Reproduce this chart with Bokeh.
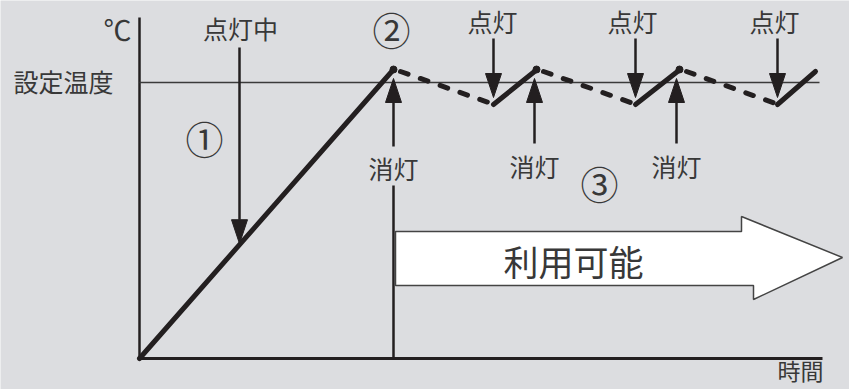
from bokeh.plotting import figure
from bokeh.models import Range1d
from bokeh.core.properties import value
from bokeh.embed import file_html
from bokeh.resources import INLINE

# ---- data (time units, temperature units) ----
ramp_time = [0, 254]
ramp_temp = [0, 289]
peak_times = [254, 397, 540]
trough_times = [354, 496, 638]
end_time = 678
peak_temp = 289
trough_temp = 254
set_temp = 276
axis_time_max = 683
axis_temp_max = 341
on_label_time = 100          # 点灯中 arrow position
labels_on = ["点灯", "点灯", "点灯"]
labels_off = ["消灯", "消灯", "消灯"]

FONT = value("Noto Sans CJK JP")
INK = "#231f20"
TXT = "#383838"
BG = "#dcdde0"

p = figure(width=849, height=389, output_backend="svg", toolbar_location=None,
           x_range=Range1d(-139, 710), y_range=Range1d(-31, 358),
           x_axis_type=None, y_axis_type=None, min_border=0)
p.grid.visible = False
p.outline_line_color = None
p.background_fill_color = BG
p.border_fill_color = BG

# axes
p.line([0, 0], [0, axis_temp_max], line_color=INK, line_width=2.5)
p.line([0, axis_time_max], [0, 0], line_color=INK, line_width=3)
# set temperature line
p.line([0, 680], [set_temp, set_temp], line_color="#3a3a3a", line_width=1.5)

# solid heating segments
p.line(ramp_time, ramp_temp, line_color=INK, line_width=5, line_cap="round")
for i, t in enumerate(trough_times):
    t_end = peak_times[i + 1] if i + 1 < len(peak_times) else end_time
    p.line([t, t_end - 2], [trough_temp, peak_temp - 2], line_color=INK, line_width=5, line_cap="round")
# dashed cooling segments
for pk, tr in zip(peak_times, trough_times):
    p.line([pk + 7, tr - 2], [peak_temp - 2, trough_temp + 1], line_color=INK, line_width=5,
           line_dash="8 13", line_cap="round")
p.scatter(peak_times, [peak_temp] * len(peak_times), size=7, color=INK)


def arrow(x, y0, y1, head_w=16, head_l=24, lw=2.5):
    """vertical arrow from y0 to tip y1"""
    d = 1 if y1 > y0 else -1
    base = y1 - d * head_l
    p.line([x, x], [y0, base], line_color=INK, line_width=lw)
    p.patch([x - head_w / 2, x + head_w / 2, x], [base, base, y1], fill_color=INK, line_color=INK)


# 点灯中 arrow down to ramp
tip = ramp_temp[1] * on_label_time / ramp_time[1] + 1
arrow(on_label_time, 311, tip)
# 点灯 arrows down to troughs
for t in trough_times:
    arrow(t, 320, trough_temp + 7)
# 消灯 arrows up to peaks
off_x = [peak_times[0], peak_times[1] - 2, peak_times[2] - 3]
for i, t in enumerate(off_x):
    arrow(t, 212 if i == 0 else 215, 280)
p.line([off_x[0], off_x[0]], [0, 173], line_color=INK, line_width=2.5)

# big white arrow 利用可能
bx = [256, 602, 602, 703, 614, 614, 256]
by = [127, 127, 142, 101, 59, 73, 73]
p.patch(bx, by, fill_color="white", line_color="#444444", line_width=1.5)

# texts
def txt(x, y, s, size):
    p.text([x], [y], [s], text_font=FONT, text_font_size=size, text_color=TXT,
           text_align="center", text_baseline="middle")

txt(-22, 330, "℃", "28px")
txt(-76, 278, "設定温度", "25px")
txt(101, 331, "点灯中", "25px")
for t, s in zip([353, 493, 635], labels_on):
    txt(t, 338, s, "25px")
for t, yy, s in zip([254, 395, 537], [191, 193, 193], labels_off):
    txt(t, yy, s, "25px")
txt(65, 221, "①", "38px")
txt(252, 330, "②", "38px")
txt(460, 176, "③", "38px")
txt(434, 98, "利用可能", "35px")
txt(661, -11, "時間", "23px")

open("out.html", "w").write(file_html(p, INLINE))
